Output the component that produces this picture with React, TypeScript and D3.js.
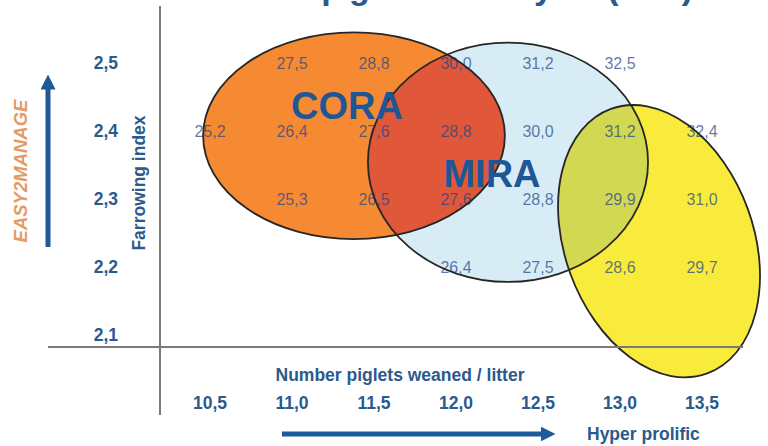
import React from 'react'
import * as d3 from 'd3'

const width = 768
const height = 446

// piglets weaned per litter (x) and farrowing index (y)
const xTicks = [10.5, 11.0, 11.5, 12.0, 12.5, 13.0, 13.5]
const yTicks = [2.1, 2.2, 2.3, 2.4, 2.5]

// piglets / sow / year for each farrowing index row, one value per x tick
const rowIndex = [2.5, 2.4, 2.3, 2.2]
const psy25 = [null, 27.5, 28.8, 30.0, 31.2, 32.5, null]
const psy24 = [25.2, 26.4, 27.6, 28.8, 30.0, 31.2, 32.4]
const psy23 = [null, 25.3, 26.5, 27.6, 28.8, 29.9, 31.0]
const psy22 = [null, null, null, 26.4, 27.5, 28.6, 29.7]
const psyRows = [psy25, psy24, psy23, psy22]

// breed zones, centre and radii in data units
const cora = { name: 'CORA', cx: 11.378, cy: 2.393, rx: 0.92, ry: 0.152, angle: 0 }
const mira = { name: 'MIRA', cx: 12.317, cy: 2.354, rx: 0.854, ry: 0.176, angle: 0 }
const hyper = { name: '', cx: 13.238, cy: 2.238, rx: 0.576, ry: 0.207, angle: -20 }

const blue = '#2b5a8c'
const font = "Arial, 'Liberation Sans', sans-serif"

const x = d3.scaleLinear().domain([10.5, 13.5]).range([210, 702])
const y = d3.scaleLinear().domain([2.1, 2.5]).range([335, 63])

const fmt = d3.formatLocale({ decimal: ',', thousands: '.', grouping: [3], currency: ['', ''] }).format('.1f')

const px = z => ({
  cx: x(z.cx),
  cy: y(z.cy),
  rx: x(z.cx + z.rx) - x(z.cx),
  ry: y(z.cy) - y(z.cy + z.ry),
  transform: `rotate(${z.angle}, ${x(z.cx)}, ${y(z.cy)})`
})

export default function App() {
  const c = px(cora)
  const m = px(mira)
  const h = px(hyper)
  const axisY = y(2.1) + 12
  const axisX = 160

  return (
    <svg width={width} height={height} viewBox={`0 0 ${width} ${height}`}
      style={{ position: 'absolute', left: 0, top: 0, display: 'block', background: '#fff' }}
      fontFamily={font}>
      <defs>
        <clipPath id="clipCora"><ellipse {...c} /></clipPath>
        <clipPath id="clipHyper"><ellipse {...h} /></clipPath>
        <marker id="head" viewBox="0 0 10 10" refX="5" refY="5" markerWidth="3" markerHeight="3" orient="auto">
          <path d="M0,0 L10,5 L0,10 z" fill="#1d5a97" />
        </marker>
      </defs>

      {/* title, cut off at the top edge: only descenders show */}
      <text x={192} y={-1.5} fontSize={34} fontWeight="bold" fill={blue}
        textLength={501} lengthAdjust="spacing">Number piglets / sow / year (PSY)</text>

      {/* zone fills */}
      <ellipse {...m} fill="#d7ecf5" />
      <ellipse {...c} fill="#f68a32" />
      <ellipse {...m} fill="#e0573a" clipPath="url(#clipCora)" />
      <ellipse {...h} fill="#f9eb3c" />
      <ellipse {...m} fill="#d3d852" clipPath="url(#clipHyper)" />

      {/* PSY values */}
      <g fontSize={16} fill="rgb(30,70,135)" fillOpacity={0.72} textAnchor="middle">
        {psyRows.map((row, i) => row.map((v, j) => v == null ? null : (
          <text key={`${i}-${j}`} x={x(xTicks[j])} y={y(rowIndex[i])} dy="0.35em">{fmt(v)}</text>
        )))}
      </g>

      {/* zone outlines */}
      <g fill="none" stroke="#262626" strokeWidth={1.8}>
        <ellipse {...c} />
        <ellipse {...m} />
        <ellipse {...h} />
      </g>

      <g fontSize={38} fontWeight="bold" fill="#1f5696" textAnchor="middle">
        <text x={347} y={y(cora.cy) - 30} dy="0.35em">{cora.name}</text>
        <text x={492} y={y(mira.cy) + 11} dy="0.35em">{mira.name}</text>
      </g>

      {/* axes */}
      <g stroke="#7a7a7a" strokeWidth={2}>
        <line x1={axisX} x2={axisX} y1={6} y2={415} />
        <line x1={48} x2={743} y1={axisY} y2={axisY} />
      </g>

      <g fontSize={17.5} fontWeight="bold" fill={blue}>
        {yTicks.map(t => (
          <text key={t} x={118} y={y(t)} dy="0.35em" textAnchor="end">{fmt(t)}</text>
        ))}
        {xTicks.map(t => (
          <text key={t} x={x(t)} y={403} dy="0.35em" textAnchor="middle">{fmt(t)}</text>
        ))}
      </g>

      <text x={400} y={375} dy="0.35em" textAnchor="middle" fontSize={17.5} fontWeight="bold" fill={blue}>
        Number piglets weaned / litter
      </text>
      <text transform={`translate(139, 183) rotate(-90)`} dy="0.35em" textAnchor="middle"
        fontSize={17.5} fontWeight="bold" fill={blue}>Farrowing index</text>
      <text transform={`translate(21, 171) rotate(-90)`} dy="0.35em" textAnchor="middle"
        fontSize={18.5} fontWeight="bold" fontStyle="italic" fill="#e49a64">EASY2MANAGE</text>
      <text x={587} y={434} dy="0.35em" fontSize={17.5} fontWeight="bold" fill={blue}>Hyper prolific</text>

      {/* direction arrows */}
      <g stroke="#1d5a97" strokeWidth={5} markerEnd="url(#head)">
        <line x1={48} x2={48} y1={247} y2={82} />
        <line x1={282} x2={548} y1={434} y2={434} />
      </g>
    </svg>
  )
}
